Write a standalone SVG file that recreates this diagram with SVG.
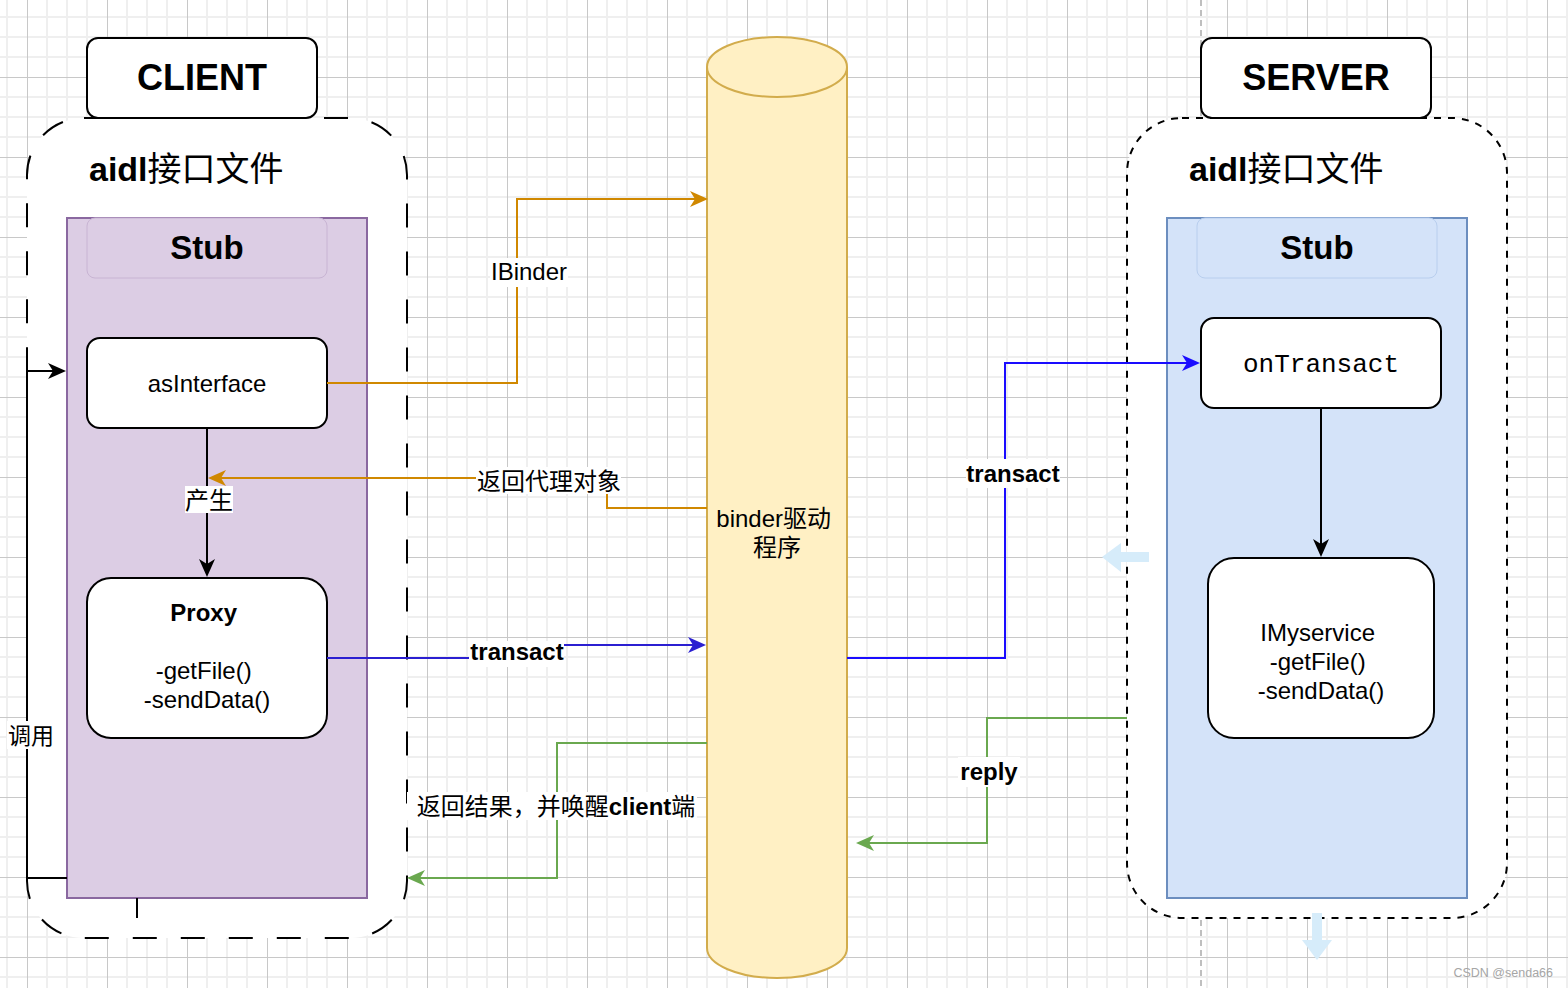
<svg xmlns="http://www.w3.org/2000/svg" width="1568" height="988" viewBox="0 0 1568 988">
  <style>
    .t { font-family: "Liberation Sans", Arial, "Noto Sans CJK SC", sans-serif; fill: #000; }
    .cjk { font-family: "Noto Sans CJK SC", "Liberation Sans", sans-serif; }
    .b { font-weight: bold; }
    .mono { font-family: "Liberation Mono", "Courier New", monospace; fill: #000; }
    .node { fill: #fff; stroke: #000; stroke-width: 2; }
    .lbl { fill: #fff; }
    .conn { fill: none; stroke-width: 2; }
  </style>
  <defs>
    <pattern id="grid" x="27" y="77" width="80" height="80" patternUnits="userSpaceOnUse">
      <rect width="80" height="80" fill="#fff"/>
      <path d="M20,0V80M40,0V80M60,0V80M0,20H80M0,40H80M0,60H80" stroke="#efefef" stroke-width="2"/>
      <path d="M0.5,0V80M0,0.5H80" stroke="#c8c8c8" stroke-width="1"/>
    </pattern>
    <marker id="ah-black" viewBox="0 0 18 16" refX="14" refY="8" markerWidth="18" markerHeight="16" markerUnits="userSpaceOnUse" orient="auto"><path d="M0,0 L18,8 L0,16 L5,8 Z" fill="#000"/></marker>
    <marker id="ah-orange" viewBox="0 0 18 16" refX="14" refY="8" markerWidth="18" markerHeight="16" markerUnits="userSpaceOnUse" orient="auto"><path d="M0,0 L18,8 L0,16 L5,8 Z" fill="#d08800"/></marker>
    <marker id="ah-blue1" viewBox="0 0 18 16" refX="14" refY="8" markerWidth="18" markerHeight="16" markerUnits="userSpaceOnUse" orient="auto"><path d="M0,0 L18,8 L0,16 L5,8 Z" fill="#2b1fd1"/></marker>
    <marker id="ah-blue2" viewBox="0 0 18 16" refX="14" refY="8" markerWidth="18" markerHeight="16" markerUnits="userSpaceOnUse" orient="auto"><path d="M0,0 L18,8 L0,16 L5,8 Z" fill="#1a0cff"/></marker>
    <marker id="ah-green" viewBox="0 0 18 16" refX="14" refY="8" markerWidth="18" markerHeight="16" markerUnits="userSpaceOnUse" orient="auto"><path d="M0,0 L18,8 L0,16 L5,8 Z" fill="#6aa84f"/></marker>
  </defs>

  <rect width="1568" height="988" fill="url(#grid)"/>
  <line x1="1201" y1="0" x2="1201" y2="988" stroke="#aaaaaa" stroke-width="1.5" stroke-dasharray="6 4"/>

  <g id="client-container">
    <rect x="27" y="118" width="380" height="820" rx="57" fill="#fff" stroke="#000" stroke-width="2" stroke-dasharray="24 24"/>
    <text class="t" x="89" y="181" font-size="34"><tspan class="b">aidl</tspan><tspan class="cjk">接口文件</tspan></text>
  </g>
  <g id="server-container">
    <rect x="1127" y="118" width="380" height="800" rx="55" fill="#fff" stroke="#000" stroke-width="2" stroke-dasharray="7 7"/>
    <text class="t" x="1189" y="181" font-size="34"><tspan class="b">aidl</tspan><tspan class="cjk">接口文件</tspan></text>
  </g>

  <g id="client-title">
    <rect class="node" x="87" y="38" width="230" height="80" rx="11"/>
    <text class="t b" x="202" y="90" font-size="36" text-anchor="middle">CLIENT</text>
  </g>
  <g id="server-title">
    <rect class="node" x="1201" y="38" width="230" height="80" rx="11"/>
    <text class="t b" x="1316" y="90" font-size="36" text-anchor="middle">SERVER</text>
  </g>

  <g id="client-stub">
    <rect x="67" y="218" width="300" height="680" fill="#dccde4" stroke="#8a68a0" stroke-width="2"/>
    <rect x="87" y="218" width="240" height="60" rx="8" fill="#dccde4" stroke="#c8b4d3" stroke-width="1"/>
    <text class="t b" x="207" y="259" font-size="33" text-anchor="middle">Stub</text>
  </g>
  <g id="server-stub">
    <rect x="1167" y="218" width="300" height="680" fill="#d4e3f9" stroke="#6c8ebf" stroke-width="2"/>
    <rect x="1197" y="218" width="240" height="60" rx="8" fill="#d4e3f9" stroke="#b8ceee" stroke-width="1"/>
    <text class="t b" x="1317" y="259" font-size="33" text-anchor="middle">Stub</text>
  </g>

  <g id="asInterface">
    <rect class="node" x="87" y="338" width="240" height="90" rx="13"/>
    <text class="t" x="207" y="392" font-size="24" text-anchor="middle">asInterface</text>
  </g>
  <g id="proxy">
    <rect class="node" x="87" y="578" width="240" height="160" rx="24"/>
    <text class="t" x="207" font-size="24" text-anchor="middle">
      <tspan class="b" x="207" y="621">Proxy</tspan>
      <tspan x="207" y="679">-getFile()</tspan>
      <tspan x="207" y="708">-sendData()</tspan>
    </text>
  </g>
  <g id="onTransact">
    <rect class="node" x="1201" y="318" width="240" height="90" rx="13"/>
    <text class="mono" x="1321" y="372" font-size="26" text-anchor="middle">onTransact</text>
  </g>
  <g id="imyservice">
    <rect class="node" x="1208" y="558" width="226" height="180" rx="26"/>
    <text class="t" font-size="24" text-anchor="middle">
      <tspan x="1321" y="641">IMyservice</tspan>
      <tspan x="1321" y="670">-getFile()</tspan>
      <tspan x="1321" y="699">-sendData()</tspan>
    </text>
  </g>

  <g id="binder-driver">
    <path d="M707,67 V948 A70,30 0 0 0 847,948 V67 A70,30 0 0 0 707,67 Z" fill="#fff0c4" stroke="#d2ac4c" stroke-width="2"/>
    <path d="M707,67 A70,30 0 0 0 847,67" fill="none" stroke="#d2ac4c" stroke-width="2"/>
    <text class="t" font-size="24" text-anchor="middle">
      <tspan x="777" y="527">binder<tspan class="cjk">驱动</tspan></tspan>
      <tspan class="cjk" x="777" y="556">程序</tspan>
    </text>
  </g>

  <g id="connectors">
    <path class="conn" stroke="#000" d="M67,878 H27 V371 H62" marker-end="url(#ah-black)"/>
    <line x1="137" y1="898" x2="137" y2="918" stroke="#000" stroke-width="2"/>
    <path class="conn" stroke="#000" d="M207,428 V573" marker-end="url(#ah-black)"/>
    <path class="conn" stroke="#d08800" d="M327,383 H517 V199 H704" marker-end="url(#ah-orange)"/>
    <path class="conn" stroke="#d08800" d="M707,508 H607 V478 H212" marker-end="url(#ah-orange)"/>
    <path class="conn" stroke="#2b1fd1" d="M327,658 H517 V645 H702" marker-end="url(#ah-blue1)"/>
    <path class="conn" stroke="#1a0cff" d="M847,658 H1005 V363 H1196" marker-end="url(#ah-blue2)"/>
    <path class="conn" stroke="#000" d="M1321,408 V553" marker-end="url(#ah-black)"/>
    <path class="conn" stroke="#6aa84f" d="M1127,718 H987 V843 H860" marker-end="url(#ah-green)"/>
    <path class="conn" stroke="#6aa84f" d="M707,743 H557 V878 H411" marker-end="url(#ah-green)"/>

    <rect class="lbl" x="490" y="258" width="78" height="29"/>
    <text class="t" x="529" y="280" font-size="24" text-anchor="middle">IBinder</text>
    <rect class="lbl" x="476" y="467" width="145" height="27"/>
    <text class="t cjk" x="549" y="490" font-size="24" text-anchor="middle">返回代理对象</text>
    <rect class="lbl" x="185" y="486" width="48" height="27"/>
    <text class="t cjk" x="209" y="509" font-size="24" text-anchor="middle">产生</text>
    <rect class="lbl" x="469" y="641" width="95" height="26"/>
    <text class="t b" x="517" y="660" font-size="24" text-anchor="middle">transact</text>
    <rect class="lbl" x="966" y="459" width="94" height="29"/>
    <text class="t b" x="1013" y="482" font-size="24" text-anchor="middle">transact</text>
    <rect class="lbl" x="958" y="757" width="62" height="30"/>
    <text class="t b" x="989" y="780" font-size="24" text-anchor="middle">reply</text>
    <rect class="lbl" x="407" y="792" width="290" height="28"/>
    <text class="t" x="556" y="815" font-size="24" text-anchor="middle"><tspan class="cjk">返回结果，并唤醒</tspan><tspan class="b">client</tspan><tspan class="cjk">端</tspan></text>
    <rect class="lbl" x="7" y="721" width="48" height="28"/>
    <text class="t cjk" x="31" y="744" font-size="23" text-anchor="middle">调用</text>
  </g>

  <g id="hints" fill="#d6ecfa">
    <path d="M1102,557 L1121,543 V552 H1149 V562 H1121 V572 Z"/>
    <path d="M1312,913 H1322 V940 H1332 L1317,960 L1302,940 H1312 Z"/>
  </g>
  <text x="1553" y="977" font-family="Liberation Sans, Arial, sans-serif" font-size="12.5" fill="#a6a6a6" text-anchor="end">CSDN @senda66</text>
</svg>
